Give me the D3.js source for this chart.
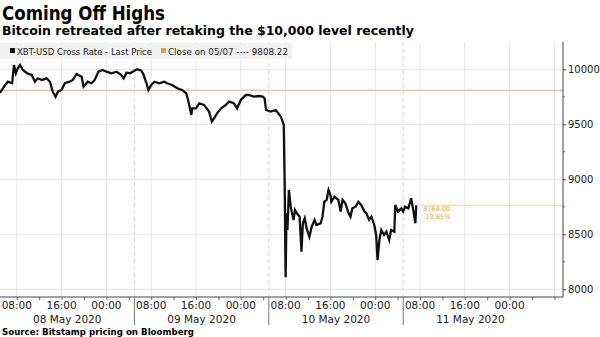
<!DOCTYPE html>
<html>
<head>
<meta charset="utf-8">
<script src="https://cdn.jsdelivr.net/npm/d3@7"></script>
<style>
  body { margin: 0; background: #fff; }
  svg { display: block; }
  text { font-family: "DejaVu Sans", sans-serif; }
</style>
</head>
<body>
<svg id="chart" width="600" height="337"></svg>
<script>
// price readings (time in "MM/DD HH:MM", axis time)
var times = [
  "05/08 05:00","05/08 05:55","05/08 06:25","05/08 07:10","05/08 07:30","05/08 07:50","05/08 08:10","05/08 08:35",
  "05/08 09:05","05/08 09:50","05/08 10:40","05/08 11:15","05/08 11:45","05/08 12:30","05/08 13:20","05/08 13:55",
  "05/08 14:25","05/08 14:55","05/08 15:20","05/08 16:00","05/08 16:35","05/08 17:25","05/08 18:00","05/08 18:40",
  "05/08 19:35","05/08 19:55","05/08 20:40","05/08 21:20","05/08 21:55","05/08 22:35","05/08 23:20","05/09 00:00",
  "05/09 00:55","05/09 01:50","05/09 02:40","05/09 03:05","05/09 03:35","05/09 04:15","05/09 04:40","05/09 05:30",
  "05/09 06:15","05/09 06:35","05/09 07:10","05/09 07:30","05/09 08:00","05/09 08:35","05/09 09:25","05/09 10:20",
  "05/09 10:50","05/09 11:45","05/09 12:40","05/09 13:30","05/09 14:15","05/09 14:35","05/09 15:10","05/09 15:20",
  "05/09 16:00","05/09 16:35","05/09 17:25","05/09 18:20","05/09 18:50","05/09 19:15","05/09 19:45","05/09 20:30",
  "05/09 21:20","05/09 21:55","05/09 22:45","05/09 23:20","05/10 00:00","05/10 00:35","05/10 00:55","05/10 01:25",
  "05/10 02:20","05/10 03:15","05/10 03:55","05/10 04:15","05/10 04:30","05/10 05:20","05/10 06:15","05/10 07:10",
  "05/10 07:40","05/10 07:50","05/10 08:00","05/10 08:10","05/10 08:20","05/10 08:35","05/10 08:55","05/10 09:05",
  "05/10 09:25","05/10 09:40","05/10 10:00","05/10 10:30","05/10 10:50","05/10 11:05","05/10 11:25","05/10 11:45",
  "05/10 12:15","05/10 12:40","05/10 13:10","05/10 13:30","05/10 14:15","05/10 14:35","05/10 14:55","05/10 15:20",
  "05/10 15:40","05/10 16:00","05/10 16:10","05/10 16:45","05/10 17:05","05/10 17:25","05/10 17:50","05/10 18:10",
  "05/10 18:40","05/10 19:15","05/10 19:35","05/10 19:55","05/10 20:30","05/10 21:00","05/10 21:30","05/10 22:05",
  "05/10 22:25","05/10 22:55","05/10 23:20","05/10 23:50","05/11 00:10","05/11 00:25","05/11 00:45","05/11 01:05",
  "05/11 01:35","05/11 02:00","05/11 02:30","05/11 02:50","05/11 03:25","05/11 03:35","05/11 04:05","05/11 04:40",
  "05/11 05:00","05/11 05:20","05/11 05:55","05/11 06:25","05/11 06:45","05/11 07:10","05/11 07:20"
];
var prices = [
  9785, 9857, 9887, 9873, 10039, 9964, 10009, 10039,
  9994, 9964, 9948, 9887, 9918, 9903, 9918, 9887,
  9796, 9751, 9796, 9812, 9873, 9887, 9903, 9957,
  9933, 9842, 9887, 9873, 9903, 9978, 9994, 9978,
  9964, 9978, 9948, 9918, 9969, 9964, 9978, 10000,
  9987, 9957, 9873, 9812, 9857, 9887, 9873, 9887,
  9873, 9857, 9827, 9812, 9782, 9721, 9585, 9645,
  9645, 9691, 9676, 9615, 9524, 9555, 9600, 9645,
  9676, 9706, 9691, 9645, 9721, 9751, 9766, 9766,
  9751, 9757, 9751, 9736, 9630, 9615, 9630, 9569,
  9494, 8966, 8110, 8694, 8540, 8903, 8751, 8706,
  8630, 8721, 8691, 8660, 8342, 8600, 8645, 8554,
  8478, 8569, 8630, 8585, 8600, 8660, 8796, 8812,
  8903, 8857, 8796, 8842, 8827, 8812, 8706, 8812,
  8782, 8691, 8660, 8736, 8751, 8796, 8766, 8706,
  8691, 8630, 8660, 8585, 8494, 8266, 8448, 8539,
  8494, 8524, 8448, 8539, 8524, 8766, 8706, 8736,
  8706, 8751, 8736, 8827, 8736, 8600, 8764
];

var yTicks = [8000, 8500, 9000, 9500, 10000];
var yMinorTicks = [8250, 8750, 9250, 9750];
var hourLabels = ["08:00", "16:00", "00:00"];
var dayLabels = ["08 May 2020", "09 May 2020", "10 May 2020", "11 May 2020"];
var dayStarts = ["05/08 05:00", "05/09 05:00", "05/10 05:00", "05/11 05:00", "05/12 05:00"];
var prevClose = 9808.22;
var lastPrice = 8764.00;
var lastChange = "-10.65%";

var parseTime = d3.utcParse("%Y/%m/%d %H:%M");
function t(s) { return parseTime("2020/" + s); }

var data = times.map(function(s, i) { return { date: t(s), value: prices[i] }; });

var plotLeft = 0, plotRight = 563, plotTop = 42, plotBottom = 297;

var x = d3.scaleUtc()
  .domain([t("05/08 05:00"), t("05/12 09:32")])
  .range([plotLeft, plotRight]);

var y = d3.scaleLinear()
  .domain([7930, 10248])
  .range([plotBottom, plotTop]);

var svg = d3.select("#chart");

//title and subtitle
svg.append("text")
  .attr("x", 2).attr("y", 19.5)
  .attr("font-size", 19).attr("font-weight", "bold")
  .attr("textLength", 163).attr("lengthAdjust", "spacingAndGlyphs")
  .text("Coming Off Highs");

svg.append("text")
  .attr("x", 2).attr("y", 35)
  .attr("font-size", 13).attr("font-weight", "bold")
  .attr("textLength", 412).attr("lengthAdjust", "spacingAndGlyphs")
  .text("Bitcoin retreated after retaking the $10,000 level recently");

//gridlines
var grid = svg.append("g");

grid.selectAll(".hgrid")
  .data(yTicks)
  .enter().append("line")
  .attr("x1", plotLeft).attr("x2", plotRight)
  .attr("y1", function(d) { return y(d); })
  .attr("y2", function(d) { return y(d); })
  .attr("stroke", "#e6e6e6");

// hour grid every 8 hours from 08:00
var hourTicks = d3.utcHour.range(t("05/08 08:00"), t("05/12 09:00"), 8);
grid.selectAll(".vgrid")
  .data(hourTicks)
  .enter().append("line")
  .attr("x1", function(d) { return x(d); })
  .attr("x2", function(d) { return x(d); })
  .attr("y1", plotTop).attr("y2", plotBottom)
  .attr("stroke", "#e6e6e6");

grid.selectAll(".dgrid")
  .data(dayStarts.slice(1, 4).map(t))
  .enter().append("line")
  .attr("x1", function(d) { return x(d); })
  .attr("x2", function(d) { return x(d); })
  .attr("y1", plotTop).attr("y2", plotBottom)
  .attr("stroke", "#d6d6d6")
  .attr("stroke-dasharray", "4,3");

//previous close line
svg.append("line")
  .attr("x1", plotLeft).attr("x2", plotRight)
  .attr("y1", y(prevClose)).attr("y2", y(prevClose))
  .attr("stroke", "#f5bd8c").attr("stroke-width", 1.2);

//last price line
var lastDate = data[data.length - 1].date;
svg.append("line")
  .attr("x1", x(lastDate) + 3).attr("x2", plotRight)
  .attr("y1", y(lastPrice)).attr("y2", y(lastPrice))
  .attr("stroke", "#f5d39a").attr("stroke-width", 1);

svg.append("text")
  .attr("x", x(lastDate) + 7).attr("y", y(lastPrice) + 6)
  .attr("font-size", 6.5).attr("fill", "#e8a43c")
  .text(lastPrice.toFixed(2));
svg.append("text")
  .attr("x", x(lastDate) + 7).attr("y", y(lastPrice) + 14)
  .attr("font-size", 6.5).attr("fill", "#e8a43c")
  .text(lastChange);

//price line
var line = d3.line()
  .x(function(d) { return x(d.date); })
  .y(function(d) { return y(d.value); });

svg.append("path")
  .datum(data)
  .attr("d", line)
  .attr("fill", "none")
  .attr("stroke", "#111")
  .attr("stroke-width", 2.3)
  .attr("stroke-linejoin", "miter");

//legend
svg.append("rect")
  .attr("x", 0).attr("y", 43).attr("width", 292).attr("height", 16)
  .attr("fill", "#efefef").attr("opacity", 0.9);
svg.append("rect")
  .attr("x", 10).attr("y", 48).attr("width", 5).attr("height", 5)
  .attr("fill", "#111");
svg.append("text")
  .attr("x", 17).attr("y", 54.5)
  .attr("font-size", 9.5).attr("fill", "#222")
  .attr("textLength", 135).attr("lengthAdjust", "spacingAndGlyphs")
  .text("XBT-USD Cross Rate - Last Price");
svg.append("rect")
  .attr("x", 161).attr("y", 48).attr("width", 5).attr("height", 5)
  .attr("fill", "#eea23a");
svg.append("text")
  .attr("x", 168).attr("y", 54.5)
  .attr("font-size", 9.5).attr("fill", "#222")
  .attr("textLength", 120).attr("lengthAdjust", "spacingAndGlyphs")
  .text("Close on 05/07 ---- 9808.22");

//y axis on the right
var yAxis = d3.axisRight(y)
  .tickValues(yTicks)
  .tickSize(3)
  .tickFormat(d3.format("d"));

var yg = svg.append("g")
  .attr("transform", "translate(" + plotRight + ",0)")
  .call(yAxis);
yg.select(".domain").attr("d", "M0," + plotTop + "V" + plotBottom).attr("stroke", "#444");
yg.selectAll(".tick line").attr("stroke", "#444");
yg.selectAll(".tick text")
  .attr("font-family", "DejaVu Sans").attr("font-size", 10).attr("fill", "#222")
  .attr("x", 5);

yg.selectAll(".minor")
  .data(yMinorTicks)
  .enter().append("line")
  .attr("x1", 0).attr("x2", 2)
  .attr("y1", function(d) { return y(d); })
  .attr("y2", function(d) { return y(d); })
  .attr("stroke", "#666");

//x axis
var xAxis = d3.axisBottom(x)
  .ticks(d3.utcHour.every(4))
  .tickSize(3)
  .tickFormat("");

var xg = svg.append("g")
  .attr("transform", "translate(0," + plotBottom + ")")
  .call(xAxis);
xg.select(".domain").attr("d", "M" + plotLeft + ",0H" + plotRight).attr("stroke", "#444");
xg.selectAll(".tick line").attr("stroke", "#666");

svg.selectAll(".hourlabel")
  .data(hourTicks.filter(function(d) { return x(d) < 540; }))
  .enter().append("text")
  .attr("x", function(d) { return x(d); })
  .attr("y", 309)
  .attr("text-anchor", "middle")
  .attr("font-size", 10.5).attr("fill", "#222")
  .text(function(d, i) { return hourLabels[i % 3]; });

// day separators below the axis
svg.selectAll(".daysep")
  .data(dayStarts.slice(1, 4).map(t))
  .enter().append("line")
  .attr("x1", function(d) { return x(d); })
  .attr("x2", function(d) { return x(d); })
  .attr("y1", plotBottom).attr("y2", 325)
  .attr("stroke", "#777");

svg.selectAll(".daylabel")
  .data(dayLabels)
  .enter().append("text")
  .attr("x", function(d, i) { return (x(t(dayStarts[i])) + x(t(dayStarts[i + 1]))) / 2; })
  .attr("y", 323)
  .attr("text-anchor", "middle")
  .attr("font-size", 10.5).attr("fill", "#222")
  .text(function(d) { return d; });

//source
svg.append("text")
  .attr("x", 2).attr("y", 335)
  .attr("font-size", 9).attr("font-weight", "bold")
  .attr("textLength", 192).attr("lengthAdjust", "spacingAndGlyphs")
  .text("Source: Bitstamp pricing on Bloomberg");
</script>
</body>
</html>
